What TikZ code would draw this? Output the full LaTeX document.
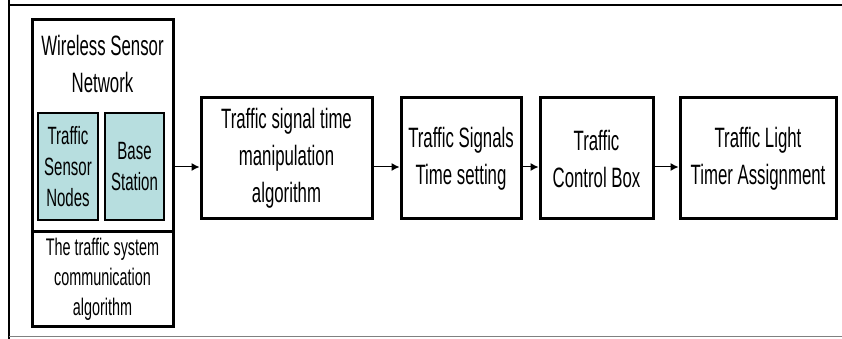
\documentclass[tikz,border=0pt]{standalone}
\usepackage{fontspec}
\setmainfont{Liberation Sans}[FakeStretch=0.6]
\usetikzlibrary{arrows.meta}
\tikzset{
  box/.style={draw=black, line width=3pt, rectangle, inner sep=0pt, align=center,
    font=\fontsize{28}{37}\selectfont},
  cyanbox/.style={draw=black, line width=1.6pt, fill=boxcyan, rectangle, inner sep=0pt, align=center,
    font=\fontsize{25}{31}\selectfont, minimum width=59pt, minimum height=107pt},
  arr/.style={line width=1pt, -{Latex[length=8pt,width=8pt]}},
}
\definecolor{boxcyan}{HTML}{B7DEDF}
\begin{document}
\begin{tikzpicture}[x=1pt,y=1pt]
\useasboundingbox (0,0) rectangle (842,339);
% outer frame
\draw[line width=2pt] (9,339) -- (9,334) -- (842,334);
\draw[line width=2pt] (9,334) -- (9,0);
\draw[gray, line width=1pt] (9,2) -- (842,2);
% WSN block
\node[box, minimum width=141pt, minimum height=212pt] (wsntop) at (102.5,213) {};
\node[box, minimum width=141pt, minimum height=95pt, font=\fontsize{24}{30}\selectfont] (wsnbot) at (102.5,59.5)
  {The traffic system\\communication\\algorithm};
\node[align=center, inner sep=0pt, font=\fontsize{28}{37}\selectfont] (wsntitle) at (102.5,275) {Wireless Sensor\\Network};
\node[cyanbox, minimum width=60pt] (tsn) at (68,172.5) {Traffic\\Sensor\\Nodes};
\node[cyanbox] (bs) at (134.5,172.5) {Base\\Station};
% chain
\node[box, minimum width=171pt, minimum height=121pt] (b2) at (286.5,180.5) {Traffic signal time\\manipulation\\algorithm};
\node[box, minimum width=120pt, minimum height=121pt] (b3) at (461,180.5) {Traffic Signals\\Time setting};
\node[box, minimum width=113pt, minimum height=121pt] (b4) at (596.5,180.5) {Traffic\\Control Box};
\node[box, minimum width=156pt, minimum height=121pt] (b5) at (758,180.5) {Traffic Light\\Timer Assignment};
% arrows
\coordinate (a2) at ([yshift=-8.5pt]b2.west);
\coordinate (a3) at ([yshift=-8.5pt]b3.west);
\coordinate (a4) at ([yshift=-8.5pt]b4.west);
\coordinate (a5) at ([yshift=-8.5pt]b5.west);
\draw[arr] (a2 -| wsntop.east) -- (a2);
\draw[arr] (a3 -| b2.east) -- (a3);
\draw[arr] (a4 -| b3.east) -- (a4);
\draw[arr] (a5 -| b4.east) -- (a5);
\end{tikzpicture}
\end{document}
